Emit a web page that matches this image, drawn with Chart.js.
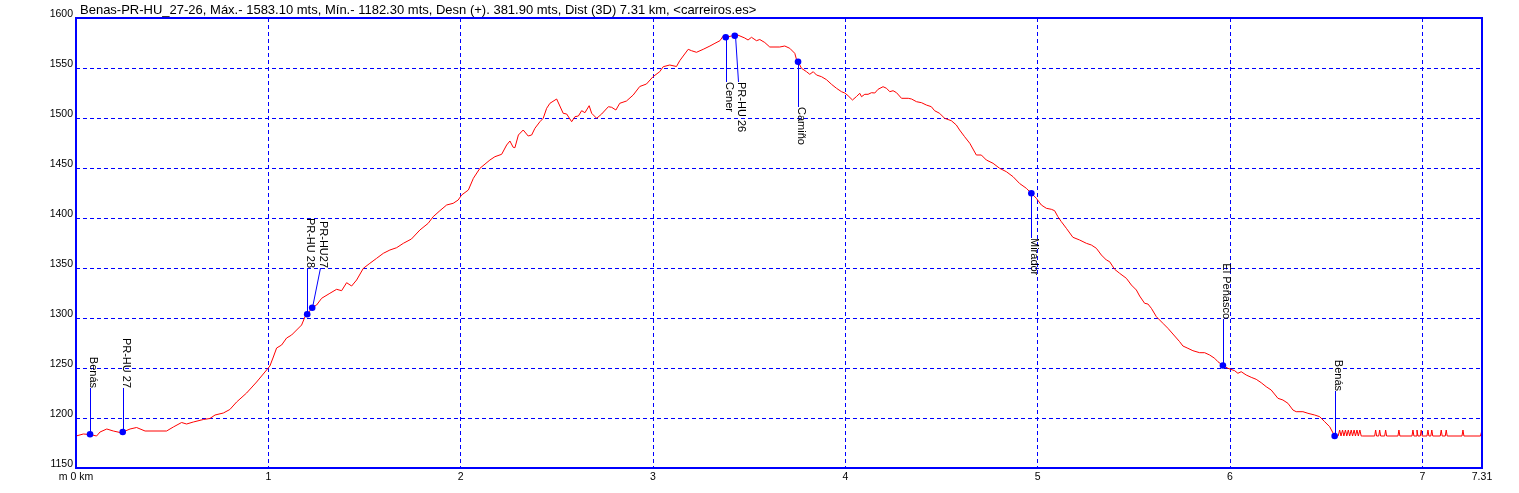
<!DOCTYPE html>
<html>
<head>
<meta charset="utf-8">
<script src="https://cdn.jsdelivr.net/npm/chart.js@4.4.0/dist/chart.umd.min.js"></script>
<style>
body { margin: 0; background: #fff; }
#wrap { width: 1519px; height: 493px; }
</style>
</head>
<body>
<div id="wrap"><canvas id="perfil"></canvas></div>
<script>
// datos del perfil
var titulo = "Benas-PR-HU_27-26, Máx.- 1583.10 mts, Mín.- 1182.30 mts, Desn (+). 381.90 mts, Dist (3D) 7.31 km, <carreiros.es>";

var dist_km = [
  0.000, 0.038, 0.073, 0.107, 0.125, 0.160, 0.194, 0.229, 0.243, 0.281, 0.315, 0.359, 0.471, 0.506, 0.549, 0.575,
  0.610, 0.662, 0.696, 0.723, 0.766, 0.800, 0.835, 0.887, 0.939, 0.991, 1.008, 1.026, 1.043, 1.069, 1.095, 1.121,
  1.147, 1.173, 1.190, 1.202, 1.228, 1.251, 1.277, 1.320, 1.355, 1.381, 1.407, 1.433, 1.459, 1.494, 1.528, 1.563,
  1.598, 1.632, 1.667, 1.702, 1.744, 1.788, 1.831, 1.857, 1.892, 1.927, 1.961, 1.987, 2.005, 2.040, 2.066, 2.100,
  2.152, 2.178, 2.213, 2.239, 2.256, 2.273, 2.282, 2.300, 2.325, 2.351, 2.369, 2.386, 2.412, 2.429, 2.447, 2.464,
  2.499, 2.533, 2.551, 2.577, 2.594, 2.612, 2.629, 2.646, 2.668, 2.681, 2.707, 2.733, 2.768, 2.785, 2.807, 2.827,
  2.862, 2.897, 2.931, 2.966, 3.000, 3.035, 3.053, 3.087, 3.122, 3.139, 3.157, 3.183, 3.200, 3.226, 3.261, 3.296,
  3.322, 3.348, 3.365, 3.378, 3.408, 3.425, 3.440, 3.477, 3.494, 3.512, 3.538, 3.555, 3.581, 3.607, 3.659, 3.685,
  3.711, 3.737, 3.746, 3.754, 3.772, 3.798, 3.815, 3.833, 3.850, 3.876, 3.902, 3.928, 3.954, 3.980, 3.997, 4.014,
  4.037, 4.058, 4.075, 4.084, 4.101, 4.118, 4.136, 4.153, 4.170, 4.196, 4.214, 4.231, 4.248, 4.266, 4.292, 4.327,
  4.344, 4.370, 4.396, 4.421, 4.447, 4.464, 4.490, 4.516, 4.551, 4.577, 4.594, 4.620, 4.647, 4.681, 4.707, 4.733,
  4.768, 4.802, 4.837, 4.872, 4.906, 4.941, 4.967, 4.993, 5.019, 5.045, 5.071, 5.088, 5.105, 5.123, 5.149, 5.183,
  5.218, 5.253, 5.279, 5.305, 5.331, 5.357, 5.374, 5.400, 5.426, 5.461, 5.487, 5.513, 5.530, 5.556, 5.573, 5.591,
  5.617, 5.651, 5.677, 5.703, 5.738, 5.755, 5.781, 5.807, 5.842, 5.868, 5.894, 5.920, 5.937, 5.963, 5.989, 6.024,
  6.041, 6.058, 6.084, 6.110, 6.136, 6.162, 6.188, 6.214, 6.249, 6.275, 6.301, 6.327, 6.344, 6.379, 6.405, 6.440,
  6.466, 6.492, 6.518, 6.544, 6.562, 6.570, 6.577, 6.585, 6.592, 6.600, 6.607, 6.615, 6.622, 6.630, 6.637, 6.645,
  6.652, 6.660, 6.667, 6.675, 6.682, 6.690, 6.752, 6.757, 6.762, 6.773, 6.778, 6.783, 6.804, 6.809, 6.814, 6.873,
  6.878, 6.883, 6.946, 6.951, 6.956, 6.967, 6.972, 6.977, 6.989, 6.994, 6.999, 7.024, 7.029, 7.034, 7.044, 7.049,
  7.054, 7.093, 7.098, 7.103, 7.119, 7.124, 7.129, 7.206, 7.211, 7.216, 7.302, 7.310
];
var altitud = [
  1182, 1184, 1183.5, 1182, 1186, 1189, 1187, 1185.5, 1186, 1189, 1190.5, 1187, 1187, 1191, 1195.5, 1194,
  1196, 1198.5, 1199.5, 1203, 1205, 1208.5, 1216, 1225, 1236, 1248, 1252, 1261, 1270, 1273, 1280, 1283,
  1288, 1293, 1301, 1303.7, 1310.3, 1313, 1319.7, 1324.7, 1328.7, 1327.3, 1335.3, 1332, 1338, 1349.7, 1354.7, 1359.7,
  1364.7, 1368, 1370.3, 1374.7, 1379, 1388, 1394.7, 1401.3, 1407.3, 1413, 1414.7, 1418, 1423, 1428, 1439.7, 1449.7,
  1458, 1461.3, 1463.7, 1473, 1477, 1470.7, 1470.3, 1483, 1488, 1482, 1483, 1489.7, 1496.3, 1499.7, 1509.7, 1514.7,
  1519, 1504.7, 1504, 1496.3, 1501.3, 1502, 1507.3, 1505.3, 1512.3, 1504.7, 1499.7, 1504, 1511.3, 1510.7, 1508, 1514.7,
  1517, 1523, 1531.5, 1534, 1541.3, 1546.3, 1551.3, 1553, 1551.5, 1557.3, 1562, 1568.7, 1567.3, 1565.7, 1568.7, 1572,
  1574.7, 1577.3, 1582, 1580.7, 1582, 1582.3, 1583, 1580, 1578, 1580.7, 1577.3, 1578.5, 1575.5, 1571, 1571, 1572,
  1569.7, 1564.7, 1558.5, 1556.3, 1549.7, 1546.3, 1543.7, 1546.3, 1543, 1541.3, 1538.3, 1533.7, 1529.7, 1526.3, 1525, 1522.3,
  1518, 1521.5, 1524.7, 1521.3, 1523.7, 1523.7, 1525.3, 1525, 1528.7, 1531.3, 1529.7, 1526.3, 1527.3, 1525.3, 1519.7, 1519.7,
  1519, 1516.3, 1515.3, 1513, 1511.3, 1507.3, 1504.7, 1499.7, 1497.3, 1493, 1488, 1481.3, 1474.7, 1463, 1463, 1458,
  1454.7, 1449.7, 1446.3, 1441.3, 1434.5, 1429.7, 1424.7, 1419.7, 1413, 1409.7, 1408.7, 1407.3, 1401.3, 1396.3, 1389.7, 1380.7,
  1378, 1374.7, 1373, 1369.7, 1363, 1358, 1356.3, 1348.7, 1344.7, 1339.7, 1333, 1328, 1322, 1314.7, 1314, 1309.7,
  1301.3, 1294.7, 1289.7, 1284, 1276.3, 1272, 1269.7, 1267.3, 1265.3, 1265.3, 1263, 1259.7, 1256.3, 1252.5, 1249.7, 1247.3,
  1244.7, 1246.3, 1243, 1240.7, 1238.7, 1235.3, 1231.3, 1228, 1219.7, 1218, 1214.7, 1208, 1206.3, 1206.3, 1204.7, 1203,
  1201.3, 1196.3, 1191.3, 1182, 1182, 1188, 1182, 1188, 1182, 1188, 1182, 1188, 1182, 1188, 1182, 1188,
  1182, 1188, 1182, 1188, 1182, 1182, 1182, 1188, 1182, 1182, 1188, 1182, 1182, 1188, 1182, 1182,
  1188, 1182, 1182, 1188, 1182, 1182, 1188, 1182, 1182, 1188, 1182, 1182, 1188, 1182, 1182, 1188,
  1182, 1182, 1188, 1182, 1182, 1188, 1182, 1182, 1188, 1182, 1182, 1188
];

// puntos de paso
var wp_names = ["Benás", "PR-HU 27", "PR-HU 28", "PR-HU27", "Cener", "PR-HU 26", "Camiño", "Mirador", "El Peñasco", "Benás"];
var wp_km = [0.073, 0.243, 1.202, 1.228, 3.378, 3.425, 3.754, 4.967, 5.963, 6.544];
var wp_alt = [1183.7, 1186, 1303.7, 1310.3, 1580.7, 1582.3, 1556.3, 1424.7, 1252.5, 1182];

var x_ticks = [0, 1, 2, 3, 4, 5, 6, 7, 7.31];
var y_ticks = [1150, 1200, 1250, 1300, 1350, 1400, 1450, 1500, 1550, 1600];

// colocacion de las etiquetas: -1 arriba / 1 abajo, desplazamiento x, largo del palito
var lbl_dir = [-1, -1, -1, -1, 1, 1, 1, 1, -1, -1];
var lbl_dx = [0, 0, 0, 8, 0, 3, 0, 0, 0, 0];
var lbl_len = [46, 44, 46, 40, 45, 46, 45, 45, 47, 45];

var fuente = '"Liberation Sans", Arial, sans-serif';

var perfil = [];
for (var i = 0; i < dist_km.length; i++) perfil.push({ x: dist_km[i], y: altitud[i] });
var puntos = [];
for (var j = 0; j < wp_km.length; j++) puntos.push({ x: wp_km[j], y: wp_alt[j] });

var etiquetas = {
  id: 'etiquetas',
  afterDatasetsDraw: function (chart) {
    var ctx = chart.ctx;
    var meta = chart.getDatasetMeta(1);
    ctx.save();
    ctx.setLineDash([]);
    ctx.strokeStyle = '#0000ff';
    ctx.lineWidth = 1;
    ctx.fillStyle = '#000';
    ctx.font = '11px ' + fuente;
    ctx.textBaseline = 'alphabetic';
    for (var i = 0; i < meta.data.length; i++) {
      var p = meta.data[i];
      var px = Math.round(p.x) + 0.5;
      var ex = Math.round(p.x + lbl_dx[i]) + 0.5;
      var ey = Math.round(p.y + lbl_dir[i] * lbl_len[i]);
      ctx.beginPath();
      ctx.moveTo(px, p.y);
      ctx.lineTo(ex, ey);
      ctx.stroke();
      var w = ctx.measureText(wp_names[i]).width;
      var start = lbl_dir[i] < 0 ? ey - w : ey;
      ctx.save();
      ctx.translate(ex - 1, start);
      ctx.rotate(Math.PI / 2);
      ctx.fillText(wp_names[i], 0, 0);
      ctx.restore();
    }
    ctx.restore();
  }
};

var marco = {
  id: 'marco',
  afterDraw: function (chart) {
    var a = chart.chartArea;
    var ctx = chart.ctx;
    ctx.save();
    ctx.setLineDash([]);
    ctx.strokeStyle = '#0000ff';
    ctx.lineWidth = 2;
    ctx.strokeRect(a.left, a.top, a.right - a.left, a.bottom - a.top);
    ctx.fillStyle = '#000';
    ctx.font = '13px ' + fuente;
    ctx.textBaseline = 'alphabetic';
    ctx.fillText(titulo, a.left + 4, 14);
    ctx.restore();
  }
};

function gridColor(borders) {
  return function (c) {
    if (c.tick && borders.indexOf(c.tick.value) >= 0) return 'rgba(0,0,0,0)';
    return '#0000ff';
  };
}

new Chart(document.getElementById('perfil'), {
  type: 'scatter',
  data: {
    datasets: [
      {
        data: perfil,
        showLine: true,
        borderColor: '#ff0000',
        borderWidth: 1,
        pointRadius: 0,
        tension: 0,
        fill: false,
        order: 1
      },
      {
        data: puntos,
        showLine: false,
        pointRadius: 3.3,
        pointBackgroundColor: '#0000ff',
        pointBorderColor: '#0000ff',
        pointBorderWidth: 0,
        order: 0
      }
    ]
  },
  options: {
    responsive: true,
    maintainAspectRatio: false,
    animation: false,
    layout: { padding: { top: 18, right: 37, left: 0, bottom: 0 } },
    plugins: { legend: { display: false }, tooltip: { enabled: false } },
    scales: {
      x: {
        type: 'linear',
        min: 0,
        max: 7.31,
        afterBuildTicks: function (s) { s.ticks = x_ticks.map(function (v) { return { value: v }; }); },
        afterFit: function (s) { s.height = 25; },
        ticks: {
          autoSkip: false,
          maxRotation: 0,
          padding: 3,
          color: '#000',
          font: { family: fuente, size: 10.5 },
          callback: function (v) { return v === 0 ? 'm 0 km' : String(v); }
        },
        grid: { color: gridColor([0, 7.31]), lineWidth: 1, drawTicks: false },
        border: { display: false, dash: [4, 3] }
      },
      y: {
        min: 1150,
        max: 1600,
        afterBuildTicks: function (s) { s.ticks = y_ticks.map(function (v) { return { value: v }; }); },
        afterFit: function (s) { s.width = 76; },
        ticks: {
          padding: 3,
          labelOffset: -4,
          color: '#000',
          font: { family: fuente, size: 10.5 },
          callback: function (v) { return String(v); }
        },
        grid: { color: gridColor([1150, 1600]), lineWidth: 1, drawTicks: false },
        border: { display: false, dash: [4, 3] }
      }
    }
  },
  plugins: [etiquetas, marco]
});
</script>
</body>
</html>
